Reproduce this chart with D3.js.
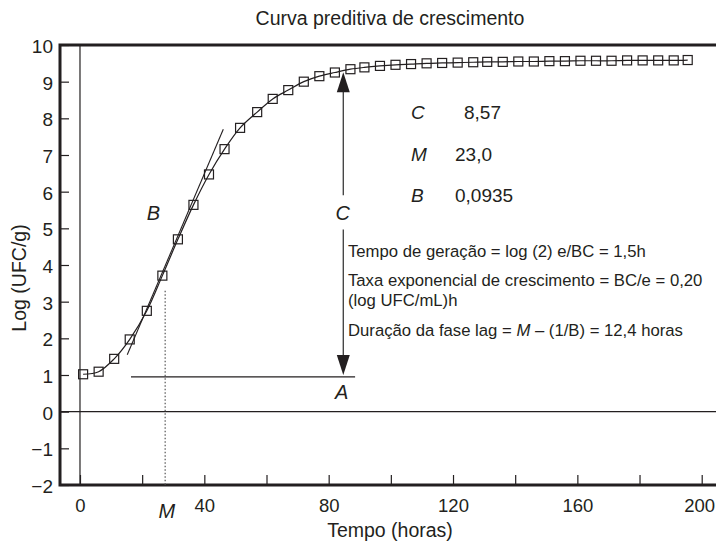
<!DOCTYPE html>
<html>
<head>
<meta charset="utf-8">
<script src="https://cdn.jsdelivr.net/npm/d3@7"></script>
<style>
  html, body { margin: 0; padding: 0; background: #fff; }
  svg text { font-family: "Liberation Sans", Arial, Helvetica, sans-serif; fill: #231f20; }
</style>
</head>
<body>
<svg id="chart" width="716" height="543"></svg>
<script>
// ---- Data ----
const times = [1, 6, 11, 16, 21.5, 26.5, 31.5, 36.5, 41.5, 46.5,
               51.5, 57, 62, 67, 72, 77, 82, 87, 91.5, 96.5,
               101.5, 106.5, 111.5, 116.5, 121.5, 126.5, 131, 136, 141, 146,
               151, 156, 161, 166, 171, 176, 181, 186, 191, 195.5];
const logCounts = [1.02, 1.09, 1.44, 1.97, 2.75, 3.71, 4.70, 5.64, 6.47, 7.16,
                   7.74, 8.17, 8.53, 8.77, 9.00, 9.15, 9.25, 9.34, 9.39, 9.43,
                   9.46, 9.48, 9.50, 9.51, 9.52, 9.53, 9.54, 9.54, 9.55, 9.55,
                   9.56, 9.56, 9.57, 9.57, 9.57, 9.58, 9.58, 9.58, 9.58, 9.59];
const xTickValues = [0, 20, 40, 60, 80, 100, 120, 140, 160, 180, 200];
const xTickLabels = ["0", "", "40", "", "80", "", "120", "", "160", "", "200"];
const yTickValues = [-2, -1, 0, 1, 2, 3, 4, 5, 6, 7, 8, 9, 10];
const tangentB = [[15.2, 1.55], [46.1, 7.70]];   // tangent line at inflection
const lagLine = [[16.4, 0.95], [88.5, 0.95]];     // line A
const mTime = 27.4;                               // M (dotted line)
const arrowTime = 84.7;
const paramNames = ["C", "M", "B"];
const paramValues = ["8,57", "23,0", "0,0935"];

const title = "Curva preditiva de crescimento";
const xTitle = "Tempo (horas)";
const yTitle = "Log (UFC/g)";

// ---- Layout ----
const W = 716, H = 543;
const svg = d3.select("#chart");
const x = d3.scaleLinear().domain([-6.43, 204.6]).range([60, 716]);
const y = d3.scaleLinear().domain([-2, 10]).range([485, 45]);
const ink = "#231f20";

// Reference lines x=0 and y=0
svg.append("line").attr("x1", x(0)).attr("x2", x(0)).attr("y1", y(10)).attr("y2", y(-2))
  .attr("stroke", ink).attr("stroke-width", 1.2);
svg.append("line").attr("x1", x.range()[0]).attr("x2", W).attr("y1", y(0)).attr("y2", y(0))
  .attr("stroke", ink).attr("stroke-width", 1.2);

// Y axis (ticks inward)
const yAxis = d3.axisLeft(y).tickValues(yTickValues).tickSize(-9).tickPadding(7)
  .tickFormat(d3.format("d"));
const gy = svg.append("g").attr("transform", `translate(60,0)`).call(yAxis);
gy.select(".domain").remove();
gy.selectAll(".tick line").attr("stroke", ink).attr("stroke-width", 1.2);
gy.selectAll(".tick text").attr("font-size", 19).attr("fill", ink)
  .style("font-family", '"Liberation Sans", Arial, sans-serif').attr("dy", "0.4em");

// X axis (ticks inward)
const xAxis = d3.axisBottom(x).tickValues(xTickValues).tickSize(-10).tickPadding(14)
  .tickFormat((d, i) => xTickLabels[i]);
const gx = svg.append("g").attr("transform", `translate(0,485)`).call(xAxis);
gx.select(".domain").remove();
gx.selectAll(".tick line").attr("stroke", ink).attr("stroke-width", 1.2);
gx.selectAll(".tick text").attr("font-size", 18.5).attr("fill", ink)
  .style("font-family", '"Liberation Sans", Arial, sans-serif')
  .attr("dx", d => d === 200 ? -2.5 : 0);

// Frame: thick top, left, bottom
svg.append("path")
  .attr("d", `M${W},${y(10)} L60,${y(10)} L60,${y(-2)} L${W},${y(-2)}`)
  .attr("fill", "none").attr("stroke", ink).attr("stroke-width", 3);

// Dotted M line
svg.append("line").attr("x1", x(mTime)).attr("x2", x(mTime))
  .attr("y1", y(3.3)).attr("y2", y(-2))
  .attr("stroke", "#555").attr("stroke-width", 1.2).attr("stroke-dasharray", "1.5,2");

// Lag line A
svg.append("line").attr("x1", x(lagLine[0][0])).attr("x2", x(lagLine[1][0]))
  .attr("y1", y(lagLine[0][1])).attr("y2", y(lagLine[1][1]))
  .attr("stroke", ink).attr("stroke-width", 1.3);

// Tangent line B
svg.append("line").attr("x1", x(tangentB[0][0])).attr("x2", x(tangentB[1][0]))
  .attr("y1", y(tangentB[0][1])).attr("y2", y(tangentB[1][1]))
  .attr("stroke", ink).attr("stroke-width", 1.1);

// Growth curve
const pts = times.map((t, i) => [t, logCounts[i]]);
svg.append("path").datum(pts)
  .attr("d", d3.line().x(d => x(d[0])).y(d => y(d[1])).curve(d3.curveCatmullRom.alpha(0.5)))
  .attr("fill", "none").attr("stroke", ink).attr("stroke-width", 1.2);

// Square markers
const s = 9;
svg.append("g").selectAll("rect").data(pts).join("rect")
  .attr("x", d => x(d[0]) - s / 2).attr("y", d => y(d[1]) - s / 2)
  .attr("width", s).attr("height", s)
  .attr("fill", "none").attr("stroke", ink).attr("stroke-width", 1.2);

// Arrows C (up) and down to A
const ax = x(arrowTime);
const arrowCol = "#3a3a3a";
function arrow(yFrom, yTip, dir) {
  svg.append("line").attr("x1", ax).attr("x2", ax).attr("y1", yFrom).attr("y2", yTip + dir * 18)
    .attr("stroke", arrowCol).attr("stroke-width", 1.3);
  svg.append("path")
    .attr("d", `M${ax},${yTip} L${ax - 6.5},${yTip + dir * 20} L${ax + 6.5},${yTip + dir * 20} Z`)
    .attr("fill", ink);
}
arrow(y(5.9), y(9.26), 1);
arrow(y(4.97), y(1.0), -1);

// Italic letter labels
const italic = (tx, ty, str, size) => svg.append("text").attr("x", tx).attr("y", ty)
  .attr("text-anchor", "middle").attr("font-size", size || 20).attr("font-style", "italic").text(str);
italic(x(arrowTime) - 0.5, y(5.41) + 7, "C");
italic(x(23.6), y(5.41) + 7, "B");
italic(x(arrowTime) - 1.5, y(0.55) + 7, "A");
italic(x(27.9), 518, "M");

// Parameter block
const pY = [119, 161, 202];
paramNames.forEach((n, i) => {
  svg.append("text").attr("x", 411).attr("y", pY[i]).attr("font-size", 19)
    .attr("font-style", "italic").text(n);
  svg.append("text").attr("x", i === 0 ? 464 : 455).attr("y", pY[i]).attr("font-size", 19)
    .text(paramValues[i]);
});

// Annotation text
const ann = svg.append("g").attr("font-size", 16.7);
ann.append("text").attr("x", 348).attr("y", 257).text("Tempo de geração = log (2) e/BC = 1,5h");
ann.append("text").attr("x", 348).attr("y", 286).text("Taxa exponencial de crescimento = BC/e = 0,20");
ann.append("text").attr("x", 348).attr("y", 306).text("(log UFC/mL)h");
const d = ann.append("text").attr("x", 348).attr("y", 336);
d.append("tspan").text("Duração da fase lag = ");
d.append("tspan").attr("font-style", "italic").text("M");
d.append("tspan").text(" – (1/B) = 12,4 horas");

// Titles
svg.append("text").attr("x", 390).attr("y", 25).attr("text-anchor", "middle")
  .attr("font-size", 19.5).text(title);
svg.append("text").attr("x", 390).attr("y", 537).attr("text-anchor", "middle")
  .attr("font-size", 19.5).text(xTitle);
svg.append("text").attr("transform", "translate(26,278) rotate(-90)").attr("text-anchor", "middle")
  .attr("font-size", 19.5).text(yTitle);
</script>
</body>
</html>
